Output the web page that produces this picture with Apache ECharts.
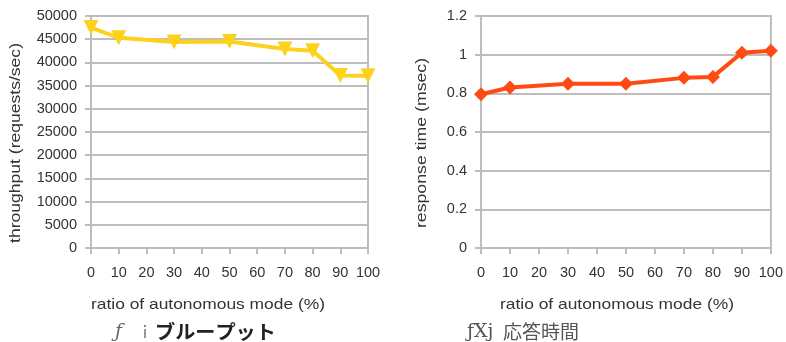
<!DOCTYPE html>
<html>
<head>
<meta charset="utf-8">
<script src="https://cdn.jsdelivr.net/npm/echarts@6/dist/echarts.min.js"></script>
<style>
  html, body { margin: 0; padding: 0; background: #fff; }
  #main { width: 786px; height: 342px; }
</style>
</head>
<body>
<div id="main"></div>
<script>
// ratio of autonomous mode (%)
var ratios = [0, 10, 30, 50, 70, 80, 90, 100];
// (a) throughput (requests/sec)
var throughput = [47500, 45300, 44400, 44500, 42900, 42500, 37200, 37100];
// (b) response time (msec)
var responseTime = [0.795, 0.83, 0.85, 0.85, 0.88, 0.885, 1.01, 1.02];

var font = 'Liberation Sans';
var gridColor = '#bdbdbd';
var labelStyle = { color: '#333', fontSize: 14.5, fontFamily: font };

function plain(v) { return String(+v.toFixed(6)); }

function xAxisOpt(idx) {
  return {
    type: 'value', gridIndex: idx, min: 0, max: 100, interval: 10,
    axisLine: { show: true, lineStyle: { color: gridColor, width: 2 } },
    axisTick: { show: true, length: 6, lineStyle: { color: gridColor, width: 2 } },
    splitLine: { show: false },
    axisLabel: Object.assign({ margin: 17, formatter: plain }, labelStyle)
  };
}
function yAxisOpt(idx, max, interval) {
  return {
    type: 'value', gridIndex: idx, min: 0, max: max, interval: interval,
    axisLine: { show: true, lineStyle: { color: gridColor, width: 2 } },
    axisTick: { show: true, length: 6, lineStyle: { color: gridColor, width: 2 } },
    splitLine: { show: true, lineStyle: { color: gridColor, width: 2 } },
    axisLabel: Object.assign({ margin: 14, formatter: plain }, labelStyle)
  };
}

var chart = echarts.init(document.getElementById('main'));
chart.setOption({
  animation: false,
  grid: [
    { left: 91, right: 418, top: 16, bottom: 94, show: true, borderColor: gridColor, borderWidth: 2 },
    { left: 481, right: 8, top: 16, bottom: 94, show: true, borderColor: gridColor, borderWidth: 2 }
  ],
  xAxis: [xAxisOpt(0), xAxisOpt(1)],
  yAxis: [yAxisOpt(0, 50000, 5000), yAxisOpt(1, 1.2, 0.2)],
  series: [
    {
      type: 'line', xAxisIndex: 0, yAxisIndex: 0,
      data: ratios.map(function (r, i) { return [r, throughput[i]]; }),
      symbol: 'triangle', symbolRotate: 180, symbolSize: 15,
      lineStyle: { color: '#fcd21c', width: 4 },
      itemStyle: { color: '#fcd21c' }
    },
    {
      type: 'line', xAxisIndex: 1, yAxisIndex: 1,
      data: ratios.map(function (r, i) { return [r, responseTime[i]]; }),
      symbol: 'diamond', symbolSize: 14,
      lineStyle: { color: '#ff4a14', width: 4 },
      itemStyle: { color: '#ff4a14' }
    }
  ],
  graphic: [
    { type: 'text', x: 16, y: 143, rotation: Math.PI / 2, scaleX: 1.17,
      style: { text: 'throughput (requests/sec)', align: 'center', verticalAlign: 'middle', fill: '#333', font: '15px "Liberation Sans"' } },
    { type: 'text', x: 422, y: 143, rotation: Math.PI / 2, scaleX: 1.18,
      style: { text: 'response time (msec)', align: 'center', verticalAlign: 'middle', fill: '#333', font: '15px "Liberation Sans"' } },
    { type: 'text', x: 208, y: 305, scaleX: 1.16,
      style: { text: 'ratio of autonomous mode (%)', align: 'center', verticalAlign: 'middle', fill: '#333', font: '15px "Liberation Sans"' } },
    { type: 'text', x: 617, y: 305, scaleX: 1.16,
      style: { text: 'ratio of autonomous mode (%)', align: 'center', verticalAlign: 'middle', fill: '#333', font: '15px "Liberation Sans"' } },
    { type: 'text', x: 115, y: 332,
      style: { text: 'ƒ', align: 'left', verticalAlign: 'middle', fill: '#666', font: 'italic 19px "DejaVu Serif"' } },
    { type: 'text', x: 137, y: 332,
      style: { text: 'ｉ', align: 'left', verticalAlign: 'middle', fill: '#777', font: '16px "Noto Sans CJK JP"' } },
    { type: 'text', x: 155, y: 332, scaleX: 1.06,
      style: { text: 'ブループット', align: 'left', verticalAlign: 'middle', fill: '#222', font: 'bold 19px "Noto Sans CJK JP"' } },
    { type: 'text', x: 467, y: 332,
      style: { text: 'ƒXj', align: 'left', verticalAlign: 'middle', fill: '#555', font: '19px "DejaVu Serif"' } },
    { type: 'text', x: 503, y: 332,
      style: { text: '応答時間', align: 'left', verticalAlign: 'middle', fill: '#555', font: '19px "Noto Sans CJK JP"' } }
  ]
});
</script>
</body>
</html>
